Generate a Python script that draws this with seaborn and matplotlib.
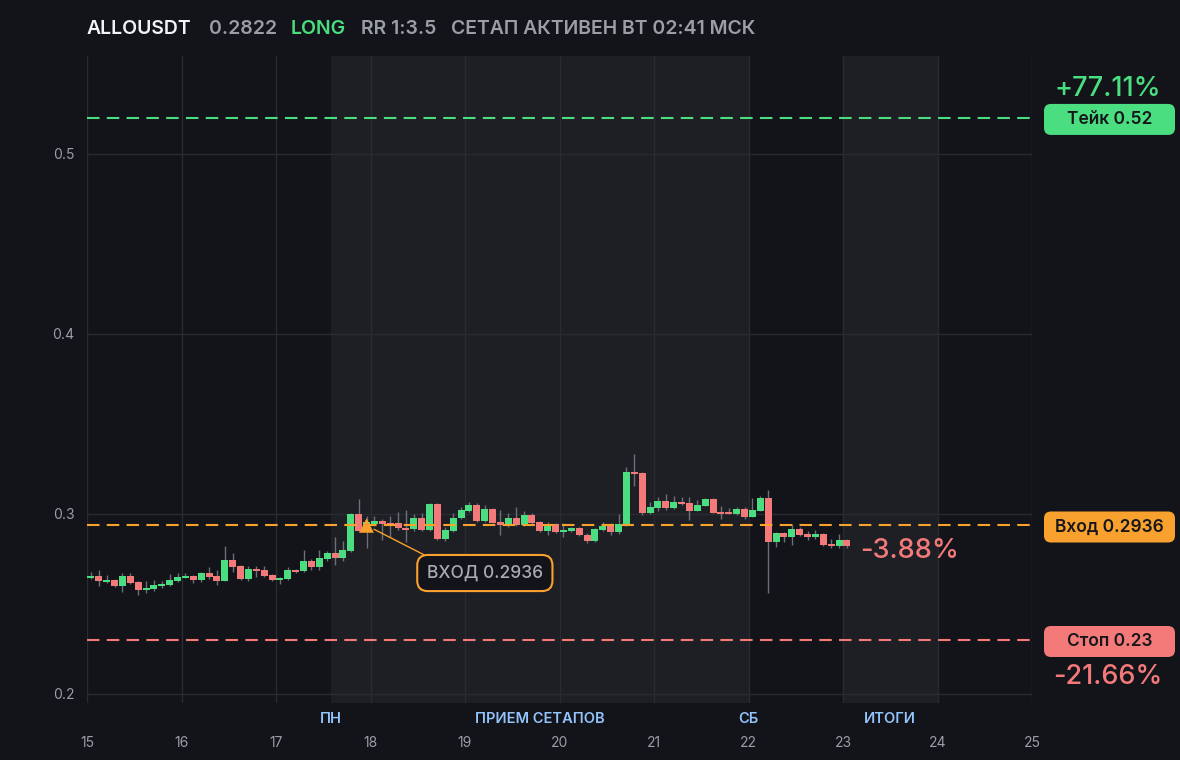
import numpy as np
import pandas as pd
import matplotlib
matplotlib.use("Agg")
import matplotlib.pyplot as plt
import seaborn as sns
from matplotlib.patches import FancyBboxPatch
from matplotlib.transforms import blended_transform_factory

# ==========================================
# Data (2h candles)
# ==========================================

symbol = "ALLOUSDT"
last_price = 0.2822
take_price = 0.52
entry_price = 0.2936
stop_price = 0.23
take_pct = "+77.11%"
now_pct = "-3.88%"
stop_pct = "-21.66%"

first_day = 15
entry_candle = 35

opens = [0.2646, 0.2656, 0.2624, 0.2633, 0.2600, 0.2656, 0.2622, 0.2578, 0.2585, 0.2600,
         0.2606, 0.2628, 0.2646, 0.2656, 0.2633, 0.2672, 0.2656, 0.2628, 0.2744, 0.2711,
         0.2639, 0.2694, 0.2689, 0.2661, 0.2633, 0.2639, 0.2689, 0.2683, 0.2739, 0.2706,
         0.2750, 0.2783, 0.2757, 0.2794, 0.3000, 0.2911, 0.2946, 0.2959, 0.2952, 0.2952,
         0.2921, 0.2915, 0.2978, 0.2911, 0.3056, 0.2863, 0.2907, 0.2978, 0.3017, 0.3050,
         0.2963, 0.3026, 0.2956, 0.2937, 0.2978, 0.2941, 0.2993, 0.2956, 0.2907, 0.2944,
         0.2898, 0.2907, 0.2922, 0.2883, 0.2852, 0.2911, 0.2933, 0.2902, 0.2939, 0.3233,
         0.3228, 0.3007, 0.3035, 0.3072, 0.3035, 0.3067, 0.3061, 0.3018, 0.3046, 0.3083,
         0.3013, 0.3013, 0.3002, 0.3028, 0.2985, 0.3018, 0.3089, 0.2846, 0.2894, 0.2872,
         0.2917, 0.2889, 0.2872, 0.2889, 0.2833, 0.2822, 0.2856]

highs = [0.2676, 0.2689, 0.2661, 0.2639, 0.2672, 0.2672, 0.2628, 0.2628, 0.2633, 0.2628,
         0.2667, 0.2672, 0.2672, 0.2661, 0.2678, 0.2706, 0.2689, 0.2822, 0.2783, 0.2717,
         0.2711, 0.2711, 0.2711, 0.2667, 0.2650, 0.2706, 0.2694, 0.2800, 0.2750, 0.2800,
         0.2794, 0.2872, 0.2850, 0.3006, 0.3083, 0.2989, 0.2989, 0.2972, 0.2989, 0.3011,
         0.3022, 0.3000, 0.3006, 0.3061, 0.3061, 0.2928, 0.3006, 0.3039, 0.3067, 0.3061,
         0.3050, 0.3033, 0.3022, 0.3006, 0.3039, 0.3017, 0.3006, 0.2961, 0.2956, 0.2950,
         0.2950, 0.2928, 0.2928, 0.2894, 0.2922, 0.2956, 0.2950, 0.3000, 0.3261, 0.3333,
         0.3233, 0.3067, 0.3094, 0.3111, 0.3100, 0.3094, 0.3094, 0.3078, 0.3089, 0.3089,
         0.3044, 0.3033, 0.3039, 0.3041, 0.3089, 0.3100, 0.3133, 0.2900, 0.2900, 0.2944,
         0.2928, 0.2906, 0.2911, 0.2894, 0.2861, 0.2889, 0.2861]

lows = [0.2637, 0.2602, 0.2618, 0.2597, 0.2568, 0.2609, 0.2550, 0.2563, 0.2572, 0.2589,
        0.2600, 0.2622, 0.2642, 0.2617, 0.2622, 0.2639, 0.2606, 0.2625, 0.2678, 0.2633,
        0.2628, 0.2650, 0.2650, 0.2628, 0.2611, 0.2633, 0.2672, 0.2678, 0.2689, 0.2689,
        0.2739, 0.2717, 0.2739, 0.2789, 0.2900, 0.2811, 0.2933, 0.2856, 0.2872, 0.2911,
        0.2846, 0.2906, 0.2906, 0.2906, 0.2858, 0.2850, 0.2900, 0.2972, 0.3011, 0.2956,
        0.2956, 0.2950, 0.2883, 0.2928, 0.2933, 0.2933, 0.2944, 0.2900, 0.2883, 0.2894,
        0.2872, 0.2900, 0.2878, 0.2839, 0.2847, 0.2906, 0.2883, 0.2889, 0.2933, 0.3157,
        0.2996, 0.3000, 0.3017, 0.3022, 0.3028, 0.3050, 0.2967, 0.3017, 0.3044, 0.3006,
        0.2974, 0.3000, 0.2997, 0.2972, 0.2983, 0.3017, 0.2563, 0.2818, 0.2846, 0.2828,
        0.2878, 0.2856, 0.2861, 0.2822, 0.2811, 0.2813, 0.2811]

closes = [0.2656, 0.2629, 0.2633, 0.2602, 0.2656, 0.2618, 0.2578, 0.2591, 0.2606, 0.2611,
          0.2633, 0.2650, 0.2656, 0.2633, 0.2672, 0.2650, 0.2628, 0.2744, 0.2706, 0.2639,
          0.2694, 0.2683, 0.2656, 0.2633, 0.2644, 0.2689, 0.2678, 0.2739, 0.2706, 0.2756,
          0.2783, 0.2757, 0.2800, 0.3000, 0.2906, 0.2956, 0.2959, 0.2946, 0.2941, 0.2921,
          0.2911, 0.2978, 0.2911, 0.3056, 0.2863, 0.2911, 0.2978, 0.3022, 0.3050, 0.2963,
          0.3026, 0.2952, 0.2937, 0.2978, 0.2941, 0.2993, 0.2952, 0.2907, 0.2941, 0.2898,
          0.2911, 0.2922, 0.2882, 0.2852, 0.2915, 0.2933, 0.2902, 0.2944, 0.3233, 0.3224,
          0.3007, 0.3039, 0.3072, 0.3035, 0.3067, 0.3057, 0.3018, 0.3050, 0.3083, 0.3007,
          0.3002, 0.3002, 0.3028, 0.2985, 0.3022, 0.3089, 0.2846, 0.2894, 0.2872, 0.2917,
          0.2883, 0.2872, 0.2889, 0.2828, 0.2822, 0.2856, 0.2822]

# session bands (day numbers) and their captions
session_start = 17 + 14 / 24
session_end = 22
results_start = 23
results_end = 24
band_labels = ["ПН", "ПРИЕМ СЕТАПОВ", "СБ", "ИТОГИ"]
band_label_x = [session_start, (session_start + session_end) / 2, session_end,
                (results_start + results_end) / 2]

x_ticks = list(range(15, 26))
y_ticks = [0.2, 0.3, 0.4, 0.5]

# ==========================================
# Colours
# ==========================================

BG = "#131419"
BAND = "#1e1f24"
GRID = "#2a2b31"
TXT = "#9a9ea6"
GREEN = "#4ade80"
RED = "#f47a7a"
ORANGE = "#f9a12e"
WICK = "#6c6f77"
BLUE = "#93c5fd"

df = pd.DataFrame({"open": opens, "high": highs, "low": lows, "close": closes})
df["t"] = first_day + (np.arange(len(df)) * 2 + 1) / 24
df["up"] = df["close"] >= df["open"]
df["body_lo"] = df[["open", "close"]].min(axis=1)
df["body_h"] = (df["close"] - df["open"]).abs().clip(lower=0.0008)

sns.set_theme(style="dark", rc={
    "figure.facecolor": BG,
    "axes.facecolor": BG,
    "savefig.facecolor": BG,
})
plt.rcParams["font.family"] = ["Inter", "DejaVu Sans"]

fig = plt.figure(figsize=(11.8, 7.6), dpi=100)
ax = fig.add_axes([87 / 1180, 1 - 703 / 760, 945 / 1180, 647 / 760])

# ==========================================
# Bands & grid
# ==========================================

ax.axvspan(session_start, session_end, color=BAND, lw=0, zorder=0)
ax.axvspan(results_start, results_end, color=BAND, lw=0, zorder=0)

for t in x_ticks:
    ax.axvline(t, color=GRID, lw=1, zorder=0.5)
for v in y_ticks:
    ax.axhline(v, color=GRID, lw=1, zorder=0.5)

# ==========================================
# Candles
# ==========================================

ax.vlines(df["t"], df["low"], df["high"], color=WICK, lw=1, zorder=2)
ax.bar(df["t"], df["body_h"], bottom=df["body_lo"], width=0.074,
       color=np.where(df["up"], GREEN, RED), lw=0, zorder=3)

# ==========================================
# Levels
# ==========================================

ax.axhline(take_price, color=GREEN, lw=1.5, dashes=(6, 3.5), zorder=4)
ax.axhline(entry_price, color=ORANGE, lw=1.5, dashes=(6, 3.5), zorder=4)
ax.axhline(stop_price, color=RED, lw=1.5, dashes=(6, 3.5), zorder=4)

entry_t = df["t"][entry_candle]
sns.scatterplot(x=[entry_t], y=[entry_price], marker="^", s=110, color=ORANGE,
                edgecolor="none", zorder=6, ax=ax, legend=False)

ax.annotate("ВХОД 0.2936", xy=(entry_t, entry_price), xytext=(19.21, 0.2672),
            ha="center", va="center", fontsize=12.5, fontweight="medium",
            color="#a8abb3",
            bbox=dict(boxstyle="round,pad=0.55,rounding_size=0.6", fc=BG,
                      ec=ORANGE, lw=1.5),
            arrowprops=dict(arrowstyle="-", color=ORANGE, lw=1,
                            relpos=(0.14, 1.0), shrinkA=0, shrinkB=6),
            zorder=7)

ax.text(df["t"].iloc[-1] + 0.14, df["close"].iloc[-1] - 0.0025, now_pct,
        color=RED, fontsize=19.5, fontweight="medium", ha="left", va="center",
        zorder=7)

# ==========================================
# Axes styling
# ==========================================

ax.set_xlim(15, 25)
ax.set_ylim(0.195, 0.5544)
ax.set_xticks(x_ticks)
ax.set_xticklabels([str(t) for t in x_ticks])
ax.set_yticks(y_ticks)
ax.set_yticklabels([str(v) for v in y_ticks])
ax.tick_params(axis="x", length=0, pad=24, labelsize=10, labelcolor=TXT)
ax.tick_params(axis="y", length=0, pad=9, labelsize=10, labelcolor=TXT)
ax.grid(False)
for s in ax.spines.values():
    s.set_visible(False)

trans = blended_transform_factory(ax.transData, ax.transAxes)
for lab, xv in zip(band_labels, band_label_x):
    ax.text(xv, -0.024, lab, transform=trans, ha="center", va="center",
            fontsize=10.5, fontweight="semibold", color=BLUE, clip_on=False)

# ==========================================
# Header and right-hand price tags (pixel overlay)
# ==========================================

ov = fig.add_axes([0, 0, 1, 1], facecolor="none")
ov.set_xlim(0, 1180)
ov.set_ylim(760, 0)
ov.axis("off")

header = [
    (87, symbol, "#f2f3f5"),
    (209, f"{last_price:.4f}", TXT),
    (291, "LONG", GREEN),
    (361, "RR 1:3.5", TXT),
    (451, "СЕТАП АКТИВЕН ВТ 02:41 МСК", TXT),
]
for px, txt, col in header:
    ov.text(px, 29, txt, color=col, fontsize=14, fontweight="semibold",
            ha="left", va="center")

tags = [
    (take_price, f"Тейк {take_price}", GREEN),
    (entry_price, f"Вход {entry_price}", ORANGE),
    (stop_price, f"Стоп {stop_price}", RED),
]
for price, txt, col in tags:
    py = fig.transFigure.inverted().transform(ax.transData.transform((15, price)))[1]
    cy = (1 - py) * 760 + 1.5
    ov.add_patch(FancyBboxPatch((1044, cy - 15.5), 131, 31,
                                boxstyle="round,pad=0,rounding_size=7",
                                fc=col, ec="none"))
    ov.text(1109.5, cy + 0.5, txt, color="#16171b", fontsize=12.5,
            fontweight="semibold", ha="center", va="center")

ov.text(1108, 89, take_pct, color=GREEN, fontsize=19.5, fontweight="medium",
        ha="center", va="center")
ov.text(1108, 677, stop_pct, color=RED, fontsize=19.5, fontweight="medium",
        ha="center", va="center")

fig.savefig("out.png", dpi=100, facecolor=BG)
